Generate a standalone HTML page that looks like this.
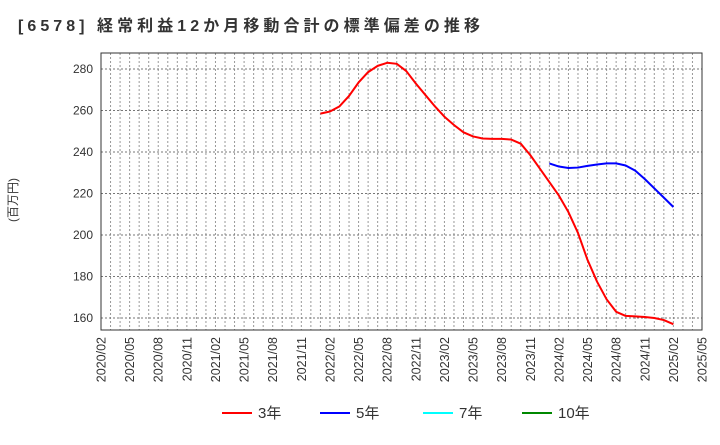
<!DOCTYPE html>
<html><head><meta charset="utf-8"><style>
body{margin:0;background:#fff;font-family:"Liberation Sans","Noto Sans CJK JP",sans-serif;}
</style></head><body>
<svg width="720" height="440" xmlns="http://www.w3.org/2000/svg">
<text x="18" y="31" font-size="16" font-weight="bold" fill="#333" textLength="462" lengthAdjust="spacing">[6578]  経常利益12か月移動合計の標準偏差の推移</text>
<text transform="translate(17,200) rotate(-90)" font-size="12" fill="#333" text-anchor="middle">(百万円)</text>
<g id="grid"></g><g id="axes"></g><g id="series"></g>
<g font-size="15" fill="#333">
<line x1="222" y1="413" x2="252" y2="413" stroke="#f00" stroke-width="2"/><text x="258" y="418">3年</text>
<line x1="320" y1="413" x2="350" y2="413" stroke="#00f" stroke-width="2"/><text x="356" y="418">5年</text>
<line x1="423" y1="413" x2="453" y2="413" stroke="#0ff" stroke-width="2"/><text x="459" y="418">7年</text>
<line x1="522" y1="413" x2="552" y2="413" stroke="#080" stroke-width="2"/><text x="558" y="418">10年</text>
</g>
</svg>
<script>
const yTicks=[160,180,200,220,240,260,280];
const xLabels=["2020/02","2020/05","2020/08","2020/11","2021/02","2021/05","2021/08","2021/11","2022/02","2022/05","2022/08","2022/11","2023/02","2023/05","2023/08","2023/11","2024/02","2024/05","2024/08","2024/11","2025/02","2025/05"];
const red3=[258.5,259.5,262,267,273.5,278.5,281.5,283,282.5,279,273,267.5,262,257,253,249.5,247.5,246.5,246.3,246.3,246,244,238.5,232,225.5,219,211,201,188,177.5,169,163,161,160.8,160.5,160,159,157];
const redStart=23;
const blue5=[234.5,233,232.3,232.5,233.3,234,234.5,234.5,233.5,231,227,222.5,218,213.5];
const blueStart=47;
const L=101,R=702,T=53,B=330,NM=63;
const X=i=>L+(R-L)*i/NM;
const Y=v=>318-(v-160)*(249/120);
const ns="http://www.w3.org/2000/svg";
function mk(t,a,p){const e=document.createElementNS(ns,t);for(const k in a)e.setAttribute(k,a[k]);p.appendChild(e);return e;}
const grid=document.getElementById('grid'),axes=document.getElementById('axes'),ser=document.getElementById('series');
mk('rect',{x:L,y:T,width:R-L,height:B-T,fill:'#fff'},grid);
for(let i=1;i<NM;i++){const l=mk('line',{x1:X(i),x2:X(i),y1:T,y2:B,stroke:'#999','stroke-dasharray':'2,2','stroke-width':1},grid);

}
yTicks.forEach(v=>{const l=mk('line',{x1:L,x2:R,y1:Y(v),y2:Y(v),stroke:'#777','stroke-dasharray':'2,2'},grid);


const t=mk('text',{x:L-8,y:Y(v)+4,'text-anchor':'end','font-size':12,fill:'#333'},axes);t.textContent=v;

});
xLabels.forEach((s,i)=>{const x=X(i*3);const t=mk('text',{transform:`translate(${x+4.5},${B+7}) rotate(-90)`,'text-anchor':'end','font-size':12.5,fill:'#333'},axes);t.textContent=s;

});
const fr=mk('rect',{x:L,y:T,width:R-L,height:B-T,fill:'none',stroke:'#333'},axes);


function line(arr,start,color,name){const p=mk('polyline',{points:arr.map((v,i)=>X(start+i)+','+Y(v)).join(' '),fill:'none',stroke:color,'stroke-width':2,'stroke-linejoin':'round'},ser);

}
line(red3,redStart,'#f00','series-3yr');
line(blue5,blueStart,'#00f','series-5yr');
</script>
</body></html>
